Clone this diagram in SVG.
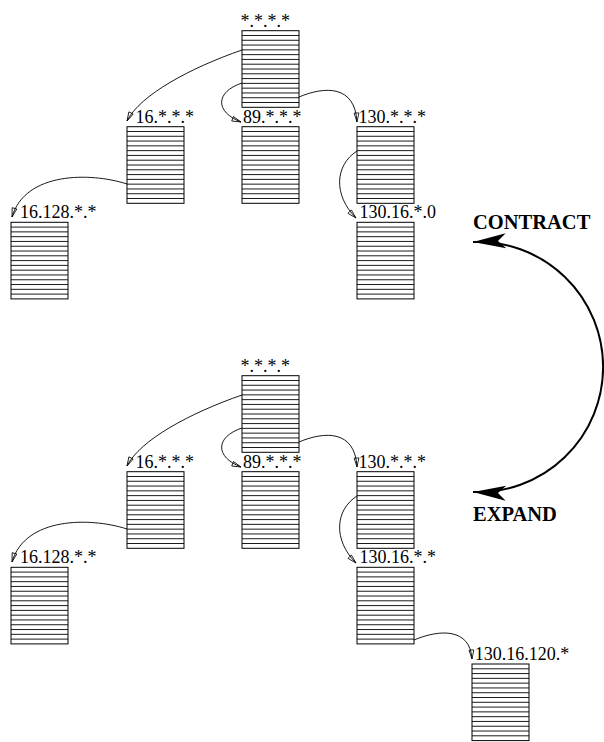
<svg xmlns="http://www.w3.org/2000/svg" xmlns:xlink="http://www.w3.org/1999/xlink" width="604" height="742" viewBox="0 0 604 742">
<style>
.lbl{font-family:"Liberation Serif","Times New Roman",serif;font-size:18px;fill:#000}
.big{font-family:"Liberation Serif","Times New Roman",serif;font-size:20.5px;font-weight:bold;fill:#000}
.c{fill:none;stroke:#000;stroke-width:0.9;marker-end:url(#a)}
.st{stroke:#000;stroke-width:0.9}
</style>
<defs>
<marker id="a" markerUnits="userSpaceOnUse" viewBox="-10 -4 11 8" refX="0" refY="0" markerWidth="11" markerHeight="8" orient="auto">
<path d="M0,0 L-9,-2.4 L-9,2.4 Z" fill="none" stroke="#000" stroke-width="0.8"/>
</marker>
<marker id="b" markerUnits="userSpaceOnUse" viewBox="-34 -9 36 18" refX="0" refY="0" markerWidth="36" markerHeight="18" orient="auto-start-reverse">
<path d="M0,0 L-33,-7.5 L-25,0 L-33,7.5 Z" fill="#000"/>
</marker>
<g id="box">
<rect x="0" y="0" width="57" height="76.6" fill="#fff" stroke="#000" stroke-width="1"/>
<g class="st">
<line x1="0" y1="4.79" x2="57" y2="4.79"/>
<line x1="0" y1="9.58" x2="57" y2="9.58"/>
<line x1="0" y1="14.36" x2="57" y2="14.36"/>
<line x1="0" y1="19.15" x2="57" y2="19.15"/>
<line x1="0" y1="23.94" x2="57" y2="23.94"/>
<line x1="0" y1="28.73" x2="57" y2="28.73"/>
<line x1="0" y1="33.51" x2="57" y2="33.51"/>
<line x1="0" y1="38.3" x2="57" y2="38.3"/>
<line x1="0" y1="43.09" x2="57" y2="43.09"/>
<line x1="0" y1="47.88" x2="57" y2="47.88"/>
<line x1="0" y1="52.66" x2="57" y2="52.66"/>
<line x1="0" y1="57.45" x2="57" y2="57.45"/>
<line x1="0" y1="62.24" x2="57" y2="62.24"/>
<line x1="0" y1="67.03" x2="57" y2="67.03"/>
<line x1="0" y1="71.81" x2="57" y2="71.81"/>
</g>
</g>
</defs>
<rect width="604" height="742" fill="#fff"/>

<!-- top tree -->
<g id="t-root"><use xlink:href="#box" x="242" y="30.7"/><text class="lbl" x="240.4" y="27">*.*.*.*</text></g>
<g id="t-16"><use xlink:href="#box" x="127" y="126.7"/><text class="lbl" x="135.5" y="123">16.*.*.*</text></g>
<g id="t-89"><use xlink:href="#box" x="242" y="126.7"/><text class="lbl" x="243" y="123">89.*.*.*</text></g>
<g id="t-130"><use xlink:href="#box" x="357" y="126.7"/><text class="lbl" x="358.5" y="123">130.*.*.*</text></g>
<g id="t-16-128"><use xlink:href="#box" x="11" y="222.3"/><text class="lbl" x="20" y="218.3">16.128.*.*</text></g>
<g id="t-130-16"><use xlink:href="#box" x="357" y="222.3"/><text class="lbl" x="359.5" y="218.3">130.16.*.0</text></g>

<!-- bottom tree -->
<g id="b-root"><use xlink:href="#box" x="242" y="375.7"/><text class="lbl" x="240.4" y="372">*.*.*.*</text></g>
<g id="b-16"><use xlink:href="#box" x="127" y="471.7"/><text class="lbl" x="135.5" y="468">16.*.*.*</text></g>
<g id="b-89"><use xlink:href="#box" x="242" y="471.7"/><text class="lbl" x="243" y="468">89.*.*.*</text></g>
<g id="b-130"><use xlink:href="#box" x="357" y="471.7"/><text class="lbl" x="358.5" y="468">130.*.*.*</text></g>
<g id="b-16-128"><use xlink:href="#box" x="11" y="567.3"/><text class="lbl" x="20" y="563.3">16.128.*.*</text></g>
<g id="b-130-16"><use xlink:href="#box" x="357" y="567.3"/><text class="lbl" x="359.5" y="563.3">130.16.*.*</text></g>
<g id="b-130-16-120"><use xlink:href="#box" x="472" y="664"/><text class="lbl" x="474.7" y="660">130.16.120.*</text></g>

<g id="connectors">
<path class="c" d="M242,50 C190,68 140,95 127,121"/>
<path class="c" d="M242,83 C215,92 215,112 241,122"/>
<path class="c" d="M299,97 C325,86 355,85 357,122"/>
<path class="c" d="M127,184 C90,172 25,172 12,217"/>
<path class="c" d="M357,151 C335,165 333,195 356,218"/>

<path class="c" d="M242,395 C190,413 140,440 127,466"/>
<path class="c" d="M242,428 C215,437 215,457 241,467"/>
<path class="c" d="M299,442 C325,431 355,430 357,467"/>
<path class="c" d="M127,529 C90,517 25,517 12,562"/>
<path class="c" d="M357,496 C335,510 333,540 356,563"/>
<path class="c" d="M414,640 C440,629 470,628 472,659"/>

<path d="M473,242 A125.1,125.1 0 1 1 473,492" fill="none" stroke="#000" stroke-width="2" marker-start="url(#b)" marker-end="url(#b)"/>
</g>

<text class="big" x="473" y="229">CONTRACT</text>
<text class="big" x="473" y="521">EXPAND</text>
</svg>
